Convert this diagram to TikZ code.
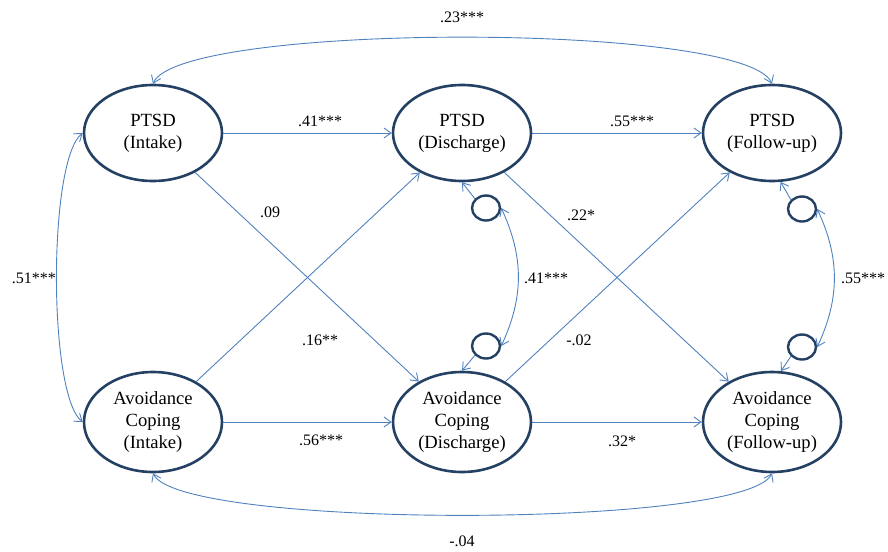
\documentclass[tikz,border=0pt]{standalone}
\usepackage{fontspec}
\setmainfont{Liberation Serif}
\usetikzlibrary{arrows.meta,shapes.geometric}
\definecolor{navy}{RGB}{36,64,98}
\definecolor{conn}{RGB}{79,129,189}
\begin{document}
\begin{tikzpicture}[x=1pt,y=-1pt,
  latent/.style={ellipse,draw=navy,line width=2.6pt,minimum width=138pt,minimum height=96pt,inner sep=0pt,align=center,font=\fontsize{18.6}{22}\selectfont},
  latentb/.style={latent,minimum height=100pt},
  resid/.style={ellipse,draw=navy,line width=2.4pt,minimum width=28pt,minimum height=25pt,inner sep=0pt},
  path/.style={draw=conn,line width=0.9pt,-{Straight Barb[length=7pt,width=10pt]}},
  cov/.style={draw=conn,line width=0.9pt,{Straight Barb[length=7pt,width=10pt]}-{Straight Barb[length=7pt,width=10pt]}},
  lab/.style={inner sep=0pt,font=\fontsize{16}{18}\selectfont}]
\useasboundingbox (0,0) rectangle (888,551);
% latent variables
\node[latent] (pi) at (153,133) {PTSD\\(Intake)};
\node[latent] (pd) at (462,133) {PTSD\\(Discharge)};
\node[latent] (pf) at (772,133) {PTSD\\(Follow-up)};
\node[latentb] (ai) at (153,422) {Avoidance\\Coping\\(Intake)};
\node[latentb] (ad) at (462,422) {Avoidance\\Coping\\(Discharge)};
\node[latentb] (af) at (772,422) {Avoidance\\Coping\\(Follow-up)};
% residuals
\node[resid] (e1) at (486,208) {};
\node[resid] (e2) at (486,346) {};
\node[resid] (e3) at (802,209) {};
\node[resid] (e4) at (802,347) {};
% structural paths
\draw[path] (pi.east) -- (pd.west);
\draw[path] (pd.east) -- (pf.west);
\draw[path] (ai.east) -- (ad.west);
\draw[path] (ad.east) -- (af.west);
\draw[path] (pi) -- (ad);
\draw[path] (ai) -- (pd);
\draw[path] (pd) -- (af);
\draw[path] (ad) -- (pf);
% residual paths
\draw[path] (e1.140) -- (pd.south);
\draw[path] (e2.220) -- (ad.north);
\draw[path] (e3.140) -- (pf.280);
\draw[path] (e4.220) -- (af.80);
% covariances
\draw[cov] (pi.north) .. controls (180,22) and (745,22) .. (pf.north);
\draw[cov] (ai.south) .. controls (180,529) and (745,529) .. (af.south);
\draw[cov] (pi.west) .. controls (48,160) and (48,395) .. (ai.west);
\draw[cov] (e1.east) to[bend left=25] (e2.east);
\draw[cov] (e3.east) to[bend left=25] (e4.east);
% labels
\node[lab] (l1) at (462,17) {.23***};
\node[lab] (l2) at (320,121) {.41***};
\node[lab] (l3) at (632,121) {.55***};
\node[lab] (l4) at (270,212) {.09};
\node[lab] (l5) at (581,215) {.22*};
\node[lab] (l6) at (546,278) {.41***};
\node[lab] (l7) at (863,278) {.55***};
\node[lab] (l8) at (34,278) {.51***};
\node[lab] (l9) at (320,340) {.16**};
\node[lab] (l10) at (579,340) {-.02};
\node[lab] (l11) at (321,440) {.56***};
\node[lab] (l12) at (622,441) {.32*};
\node[lab] (l13) at (462,541) {-.04};
\end{tikzpicture}
\end{document}
